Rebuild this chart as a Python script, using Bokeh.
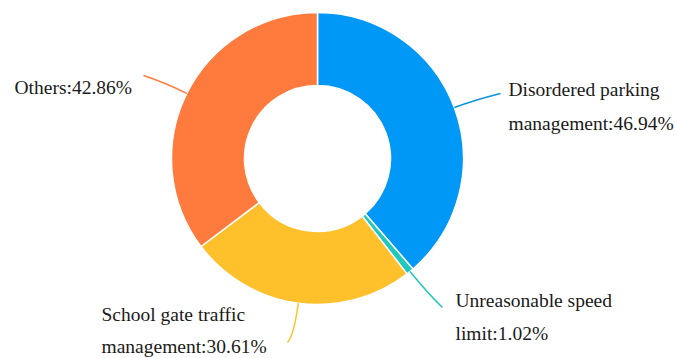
import math
from bokeh.plotting import figure
from bokeh.models import Range1d, ColumnDataSource
from bokeh.core.properties import value
from bokeh.embed import file_html
from bokeh.resources import INLINE

# ---- data ----
categories = ["Disordered parking management", "Unreasonable speed limit",
              "School gate traffic management", "Others"]
values = [46.94, 1.02, 30.61, 42.86]
label_line1 = ["Disordered parking", "Unreasonable speed", "School gate traffic", ""]
label_line2 = ["management", "limit", "management", "Others"]
colors = ["#0098F7", "#1DC8BD", "#FFC12B", "#FF7B3D"]
line_colors = ["#0A92DC", "#1DC8BD", "#FFC12B", "#FF7B3D"]

# ---- layout (screen pixels, y downward) ----
W, H = 675, 358
CX, CY = 317, 158
R_OUT, R_IN = 146, 73
label_x = [508, 455, 101, 14]
label_base1 = [89, 300, 314, 0]
label_base2 = [123, 333, 346, 87]
leader_end = [(500, 93), (442, 307), (287, 342), (143, 75)]
leader_len1 = [22, 30, 32, 25]

p = figure(width=W, height=H, x_range=Range1d(0, W), y_range=Range1d(0, H),
           output_backend="svg", toolbar_location=None, min_border=0)
p.axis.visible = False
p.grid.visible = False
p.outline_line_color = None
p.background_fill_color = "white"

def sy(y):
    return H - y

total = sum(values)
starts, ends, mids = [], [], []
acc = 0.0
for v in values:
    a0 = acc / total * 2 * math.pi
    acc += v
    a1 = acc / total * 2 * math.pi
    starts.append(math.pi / 2 - a1)
    ends.append(math.pi / 2 - a0)
    mids.append((a0 + a1) / 2)

src = ColumnDataSource(dict(x=[CX] * 4, y=[sy(CY)] * 4, s=starts, e=ends, c=colors))
p.annular_wedge(x="x", y="y", inner_radius=R_IN, outer_radius=R_OUT,
                inner_radius_units="screen", outer_radius_units="screen",
                start_angle="s", end_angle="e", direction="anticlock",
                fill_color="c", line_color="white", line_width=1.5, source=src)

# leader lines
x0s, y0s, cxs, cys, x1s, y1s = [], [], [], [], [], []
for i, m in enumerate(mids):
    dx, dy = math.sin(m), -math.cos(m)
    sx0, sy0 = CX + R_OUT * dx, CY + R_OUT * dy
    cx, cy = sx0 + leader_len1[i] * dx, sy0 + leader_len1[i] * dy
    ex, ey = leader_end[i]
    x0s.append(sx0); y0s.append(sy(sy0))
    cxs.append(cx); cys.append(sy(cy))
    x1s.append(ex); y1s.append(sy(ey))
p.quadratic(x0=x0s, y0=y0s, x1=x1s, y1=y1s, cx=cxs, cy=cys,
            line_color=line_colors, line_width=1.5)

# labels
tx, ty, tt = [], [], []
for i in range(4):
    pct = f"{values[i]:.2f}%"
    if label_line1[i]:
        tx.append(label_x[i]); ty.append(sy(label_base1[i])); tt.append(label_line1[i])
    tx.append(label_x[i]); ty.append(sy(label_base2[i])); tt.append(f"{label_line2[i]}:{pct}")
p.text(x=tx, y=ty, text=tt, text_font=value("Liberation Serif"),
       text_font_size="19.5px", text_color="#1a1a1a",
       text_baseline="alphabetic", text_align="left")

open("out.html", "w").write(file_html(p, INLINE))
